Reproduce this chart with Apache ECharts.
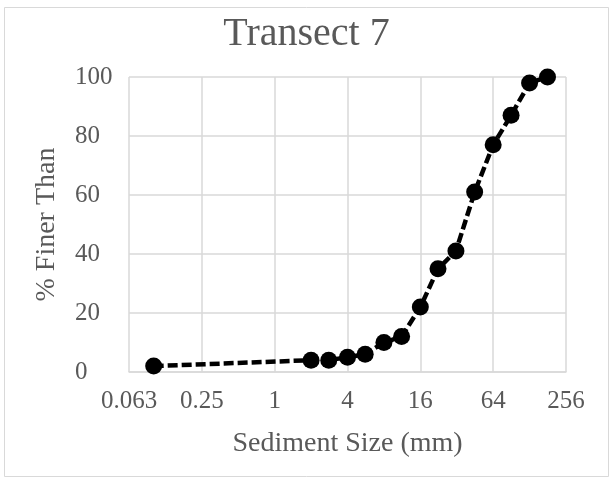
<!DOCTYPE html>
<html>
<head>
<meta charset="utf-8">
<script src="https://cdn.jsdelivr.net/npm/echarts@6/dist/echarts.min.js"></script>
<style>
  html, body { margin: 0; padding: 0; background: #ffffff; }
  #chart { width: 613px; height: 480px; }
</style>
</head>
<body>
<div id="chart"></div>
<script>
// Grain-size distribution for transect 7 (cumulative % finer vs. sieve size)
const sizesMm = [0.1, 2, 2.8, 4, 5.6, 8, 11.2, 16, 22.4, 31.5, 45, 64, 90, 128, 180];
const percentFiner = [2, 4, 4, 5, 6, 10, 12, 22, 35, 41, 61, 77, 87, 98, 100];
const yTicks = [0, 20, 40, 60, 80, 100];

const FONT = '"Liberation Serif", serif';
const TEXT = '#595959';
const GRID = '#d9d9d9';

const chart = echarts.init(document.getElementById('chart'), null, { renderer: 'canvas' });

chart.setOption({
  animation: false,
  backgroundColor: '#ffffff',
  title: {
    text: 'Transect 7',
    left: 'center',
    top: 9,
    textStyle: { fontFamily: FONT, fontSize: 40, fontWeight: 'normal', color: TEXT }
  },
  graphic: [{
    type: 'rect',
    shape: { x: 4.5, y: 7.5, width: 604, height: 469 },
    style: { fill: 'none', stroke: GRID, lineWidth: 1 },
    silent: true,
    z: -1
  }],
  grid: { left: 129, right: 47, top: 77, bottom: 108, containLabel: false, outerBoundsMode: 'none' },
  xAxis: {
    type: 'log',
    logBase: 4,
    min: 0.0625,
    max: 256,
    name: 'Sediment Size (mm)',
    nameLocation: 'middle',
    nameGap: 58,
    nameTextStyle: { fontFamily: FONT, fontSize: 28, color: TEXT },
    axisLine: { show: true, lineStyle: { color: GRID, width: 1.5 } },
    axisTick: { show: false },
    splitLine: { show: true, lineStyle: { color: GRID, width: 1.5 } },
    axisLabel: {
      fontFamily: FONT, fontSize: 25, color: TEXT, margin: 17,
      formatter: v => v < 1 ? String(+v.toFixed(3)) : String(Math.round(v))
    }
  },
  yAxis: {
    type: 'value',
    min: yTicks[0],
    max: yTicks[yTicks.length - 1],
    interval: yTicks[1] - yTicks[0],
    name: '% Finer Than',
    nameLocation: 'middle',
    nameGap: 68,
    nameTextStyle: { fontFamily: FONT, fontSize: 28, color: TEXT },
    axisLine: { show: false },
    axisTick: { show: false },
    splitLine: { show: true, lineStyle: { color: GRID, width: 1.5 } },
    axisLabel: { fontFamily: FONT, fontSize: 25, color: TEXT, align: 'left', margin: 54 }
  },
  series: [{
    type: 'line',
    data: sizesMm.map((s, i) => [s, percentFiner[i]]),
    symbol: 'circle',
    symbolSize: 17,
    showAllSymbol: true,
    itemStyle: { color: '#000000' },
    lineStyle: { color: '#000000', width: 4.5, type: [10, 4] },
    z: 3
  }]
});
</script>
</body>
</html>
